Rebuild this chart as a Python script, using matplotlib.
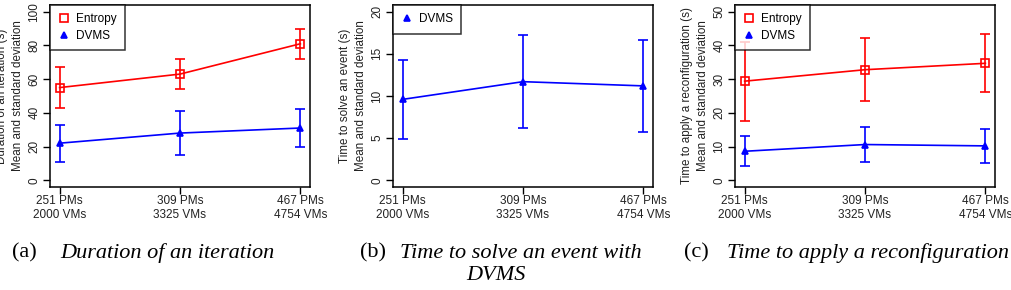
import matplotlib
matplotlib.use("Agg")
import matplotlib.pyplot as plt
from matplotlib.lines import Line2D

plt.rcParams['font.family'] = ['Liberation Sans', 'DejaVu Sans']

x_labels = ["251 PMs\n2000 VMs", "309 PMs\n3325 VMs", "467 PMs\n4754 VMs"]
x_pos = [1, 2, 3]

# (a) duration of an iteration
iter_entropy = [55, 63, 81]
iter_entropy_sd = [12, 9, 9]
iter_dvms = [22, 28, 31]
iter_dvms_sd = [11, 13, 11]

# (b) time to solve an event
event_dvms = [9.6, 11.7, 11.2]
event_dvms_sd = [4.7, 5.5, 5.5]

# (c) time to apply a reconfiguration
reconf_entropy = [29.4, 32.8, 34.7]
reconf_entropy_sd = [11.7, 9.4, 8.6]
reconf_dvms = [8.6, 10.6, 10.2]
reconf_dvms_sd = [4.4, 5.2, 5.1]

W, H = 1011, 290
fig = plt.figure(figsize=(W / 100, H / 100), dpi=100)

MARK = {'Entropy': ('red', 's', False), 'DVMS': ('blue', '^', True)}


def make_axes(left_px):
    return fig.add_axes([left_px / W, (H - 187) / H, 260 / W, 182 / H])


def marker_kw(name):
    color, marker, filled = MARK[name]
    return dict(color=color, marker=marker, markersize=5.5 if marker == 's' else 5,
                markerfacecolor=color if filled else 'none', markeredgecolor=color,
                markeredgewidth=1.2)


def draw_series(ax, y, sd, name):
    ax.errorbar(x_pos, y, yerr=sd, lw=1.2, capsize=3.5, capthick=1.2,
                elinewidth=1.2, **marker_kw(name))


def style(ax, ymax, step, ylabel, names):
    ax.set_xlim(0.92, 3.08)
    ax.set_ylim(-0.04 * ymax, 1.04 * ymax)
    ax.set_xticks(x_pos)
    ax.set_xticklabels(x_labels, fontsize=8.5, color='#222222', linespacing=1.25)
    yt = list(range(0, ymax + 1, step))
    ax.set_yticks(yt)
    ax.set_yticklabels([str(v) for v in yt], fontsize=8.5, color='#222222',
                       rotation=90, va='center')
    ax.tick_params(direction='out', length=5, width=1, pad=2)
    ax.tick_params(axis='x', pad=0.5)
    for s in ax.spines.values():
        s.set_linewidth(1.1)
    ax.set_ylabel(ylabel, fontsize=8.4, color='#222222', labelpad=3, linespacing=1.45)
    handles = [Line2D([], [], linestyle='none', **marker_kw(n)) for n in names]
    leg = ax.legend(handles, names, loc='upper left', fontsize=8.5, frameon=True,
                    fancybox=False, borderaxespad=0, handlelength=1.0,
                    handletextpad=0.5, borderpad=0.7, labelspacing=0.4)
    leg.get_frame().set_edgecolor('black')
    leg.get_frame().set_linewidth(1.1)


ax1 = make_axes(50)
draw_series(ax1, iter_entropy, iter_entropy_sd, 'Entropy')
draw_series(ax1, iter_dvms, iter_dvms_sd, 'DVMS')
style(ax1, 100, 20, "Duration of an iteration (s)\nMean and standard deviation",
      ['Entropy', 'DVMS'])

ax2 = make_axes(393)
draw_series(ax2, event_dvms, event_dvms_sd, 'DVMS')
style(ax2, 20, 5, "Time to solve an event (s)\nMean and standard deviation", ['DVMS'])

ax3 = make_axes(735)
draw_series(ax3, reconf_entropy, reconf_entropy_sd, 'Entropy')
draw_series(ax3, reconf_dvms, reconf_dvms_sd, 'DVMS')
style(ax3, 50, 10, "Time to apply a reconfiguration (s)\nMean and standard deviation",
      ['Entropy', 'DVMS'])

# captions
serif = ['Liberation Serif', 'DejaVu Serif']
cap_y = 1 - 253 / H
for tag_x, txt_x, tag, txt in [(12, 60, "(a)", "Duration of an iteration"),
                               (360, 400, "(b)", "Time to solve an event with"),
                               (684, 727, "(c)", "Time to apply a reconfiguration")]:
    fig.text(tag_x / W, cap_y, tag, family=serif, fontsize=16, va='center')
    fig.text(txt_x / W, cap_y, txt, family=serif, style='italic', fontsize=16, va='center')
fig.text(496 / W, 1 - 276 / H, "DVMS", family=serif, style='italic', fontsize=16,
         va='center', ha='center')

fig.savefig("out.png", dpi=100)
